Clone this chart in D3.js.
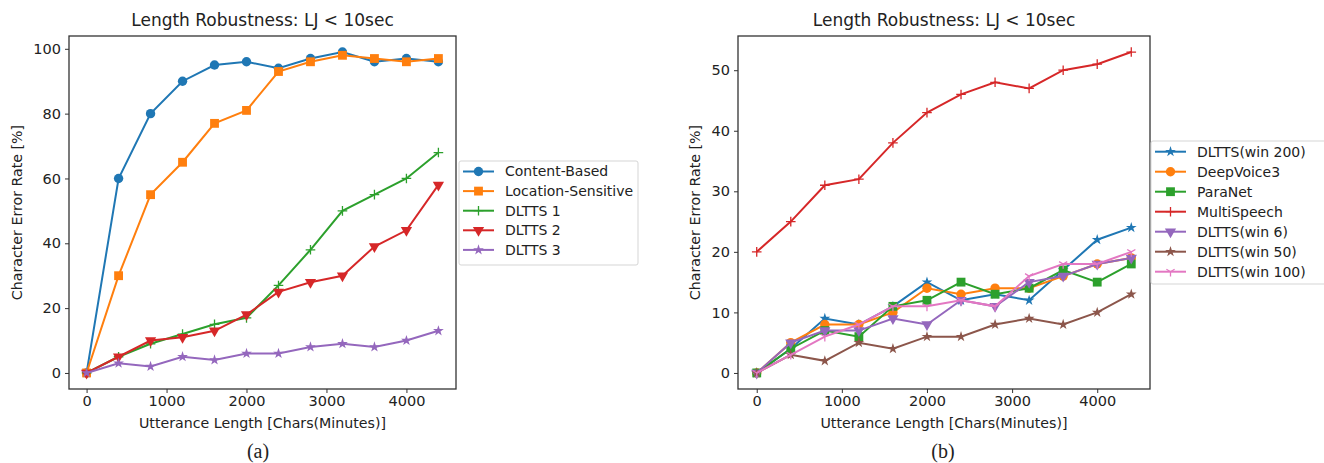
<!DOCTYPE html>
<html>
<head>
<meta charset="utf-8">
<script src="https://cdn.jsdelivr.net/npm/d3@7"></script>
<style>
  body { margin: 0; background: #fff; }
  svg text { font-family: "DejaVu Sans", sans-serif; fill: #222; }
</style>
</head>
<body>
<svg id="chart" width="1324" height="463"></svg>
<script>
// Shared x values (utterance length in chars)
var lengths = [0, 400, 800, 1200, 1600, 2000, 2400, 2800, 3200, 3600, 4000, 4400];

// Panel (a) series
var namesA = ["Content-Based", "Location-Sensitive", "DLTTS 1", "DLTTS 2", "DLTTS 3"];
var contentBased      = [0, 60, 80, 90, 95, 96, 94, 97, 99, 96, 97, 96];
var locationSensitive = [0, 30, 55, 65, 77, 81, 93, 96, 98, 97, 96, 97];
var dltts1            = [0, 5, 9, 12, 15, 17, 27, 38, 50, 55, 60, 68];
var dltts2            = [0, 5, 10, 11, 13, 18, 25, 28, 30, 39, 44, 58];
var dltts3            = [0, 3, 2, 5, 4, 6, 6, 8, 9, 8, 10, 13];
var yTicksA = [0, 20, 40, 60, 80, 100];

// Panel (b) series
var namesB = ["DLTTS(win 200)", "DeepVoice3", "ParaNet", "MultiSpeech", "DLTTS(win 6)", "DLTTS(win 50)", "DLTTS(win 100)"];
var win200      = [0, 4, 9, 8, 11, 15, 12, 13, 12, 17, 22, 24];
var deepVoice3  = [0, 5, 8, 8, 10, 14, 13, 14, 14, 16, 18, 19];
var paraNet     = [0, 4, 7, 6, 11, 12, 15, 13, 14, 17, 15, 18];
var multiSpeech = [20, 25, 31, 32, 38, 43, 46, 48, 47, 50, 51, 53];
var win6        = [0, 5, 7, 7, 9, 8, 12, 11, 15, 16, 18, 19];
var win50       = [0, 3, 2, 5, 4, 6, 6, 8, 9, 8, 10, 13];
var win100      = [0, 3, 6, 8, 11, 11, 12, 11, 16, 18, 18, 20];
var yTicksB = [0, 10, 20, 30, 40, 50];

var xTicks = [0, 1000, 2000, 3000, 4000];
var colors = ["#1f77b4", "#ff7f0e", "#2ca02c", "#d62728", "#9467bd", "#8c564b", "#e377c2"];

var svg = d3.select("#chart");

// marker drawing: returns a group at (x,y)
function drawMarker(g, type, color, x, y) {
  var m = g.append("g").attr("transform", "translate(" + x + "," + y + ")");
  if (type === "circle") {
    m.append("circle").attr("r", 4.7).attr("fill", color);
  } else if (type === "square") {
    m.append("path").attr("d", d3.symbol(d3.symbolSquare, 78)()).attr("fill", color);
  } else if (type === "tridown") {
    m.append("path").attr("d", d3.symbol(d3.symbolTriangle, 55)())
      .attr("transform", "rotate(180)").attr("fill", color);
  } else if (type === "star") {
    m.append("path").attr("d", d3.symbol(d3.symbolStar, 36)()).attr("fill", color);
  } else if (type === "plus") {
    m.append("path").attr("d", "M-4.8,0H4.8M0,-4.8V4.8")
      .attr("stroke", color).attr("stroke-width", 1.3).attr("fill", "none");
  } else if (type === "tri") {
    m.append("path").attr("d", "M0,0V4.8M0,0L-4.1,-2.4M0,0L4.1,-2.4")
      .attr("stroke", color).attr("stroke-width", 1.3).attr("fill", "none");
  }
}

function drawPanel(opt) {
  var x = d3.scaleLinear().domain([-220, 4620]).range([opt.left, opt.right]);
  var y = d3.scaleLinear().domain(opt.yDomain).range([opt.bottom, opt.top]);

  // axes
  svg.append("g")
    .attr("transform", "translate(0," + opt.bottom + ")")
    .call(d3.axisBottom(x).tickValues(xTicks).tickSize(4).tickPadding(3).tickFormat(d3.format("d")))
    .call(g => g.select(".domain").remove())
    .selectAll("text").style("font-size", "14.5px").style("font-family", "DejaVu Sans").attr("fill", "#222");

  svg.append("g")
    .attr("transform", "translate(" + opt.left + ",0)")
    .call(d3.axisLeft(y).tickValues(opt.yTicks).tickSize(4).tickPadding(4).tickFormat(d3.format("d")))
    .call(g => g.select(".domain").remove())
    .selectAll("text").style("font-size", "14.5px").style("font-family", "DejaVu Sans").attr("fill", "#222");

  svg.selectAll(".tick line").attr("stroke", "#333");

  var plot = svg.append("g");
  var line = d3.line().x((d, i) => x(lengths[i])).y(d => y(d));

  opt.series.forEach(function (s, k) {
    plot.append("path").datum(s.values)
      .attr("d", line).attr("fill", "none")
      .attr("stroke", s.color).attr("stroke-width", 2);
    s.values.forEach(function (v, i) {
      drawMarker(plot, s.marker, s.color, x(lengths[i]), y(v));
    });
  });

  // frame
  svg.append("rect")
    .attr("x", opt.left).attr("y", opt.top)
    .attr("width", opt.right - opt.left).attr("height", opt.bottom - opt.top)
    .attr("fill", "none").attr("stroke", "#333").attr("stroke-width", 1.3);

  // title
  svg.append("text")
    .attr("x", (opt.left + opt.right) / 2).attr("y", 26)
    .attr("text-anchor", "middle").style("font-size", "17px")
    .text("Length Robustness: LJ < 10sec");

  // axis labels
  svg.append("text")
    .attr("x", x(2200)).attr("y", 428)
    .attr("text-anchor", "middle").style("font-size", "14.2px")
    .text("Utterance Length [Chars(Minutes)]");

  svg.append("text")
    .attr("transform", "translate(" + opt.yLabelX + "," + ((opt.top + opt.bottom) / 2) + ") rotate(-90)")
    .attr("text-anchor", "middle").style("font-size", "14.2px")
    .text("Character Error Rate [%]");

  // caption
  svg.append("text")
    .attr("x", opt.captionX).attr("y", 458)
    .attr("text-anchor", "middle")
    .style("font-family", "Liberation Serif, serif").style("font-size", "20px")
    .text(opt.caption);

  // legend
  var lg = svg.append("g");
  lg.append("rect")
    .attr("x", opt.legend.x).attr("y", opt.legend.y)
    .attr("width", opt.legend.w).attr("height", opt.legend.h)
    .attr("rx", 2).attr("fill", "#fff").attr("fill-opacity", 0.8)
    .attr("stroke", "#d5d5d5");
  opt.series.forEach(function (s, k) {
    var ly = opt.legend.firstY + k * opt.legend.step;
    lg.append("line")
      .attr("x1", opt.legend.x + 4).attr("x2", opt.legend.x + 35)
      .attr("y1", ly).attr("y2", ly)
      .attr("stroke", s.color).attr("stroke-width", 2);
    drawMarker(lg, s.marker, s.color, opt.legend.x + 19.5, ly);
    lg.append("text")
      .attr("x", opt.legend.x + 46).attr("y", ly).attr("dy", "0.35em")
      .style("font-size", "14px").text(s.name);
  });
}

var markersA = ["circle", "square", "plus", "tridown", "star"];
var valuesA = [contentBased, locationSensitive, dltts1, dltts2, dltts3];
drawPanel({
  left: 69, right: 456, top: 36, bottom: 389,
  yDomain: [-4.95, 103.95], yTicks: yTicksA, yLabelX: 22,
  caption: "(a)", captionX: 258,
  series: namesA.map((n, i) => ({ name: n, values: valuesA[i], color: colors[i], marker: markersA[i] })),
  legend: { x: 459, y: 161, w: 179, h: 104, firstY: 171.5, step: 19.6 }
});

var markersB = ["star", "circle", "square", "plus", "tridown", "star", "tri"];
var valuesB = [win200, deepVoice3, paraNet, multiSpeech, win6, win50, win100];
drawPanel({
  left: 738, right: 1150, top: 36, bottom: 389,
  yDomain: [-2.65, 55.65], yTicks: yTicksB, yLabelX: 700,
  caption: "(b)", captionX: 943,
  series: namesB.map((n, i) => ({ name: n, values: valuesB[i], color: colors[i], marker: markersB[i] })),
  legend: { x: 1151, y: 141, w: 175, h: 143, firstY: 151.7, step: 20 }
});
</script>
</body>
</html>
